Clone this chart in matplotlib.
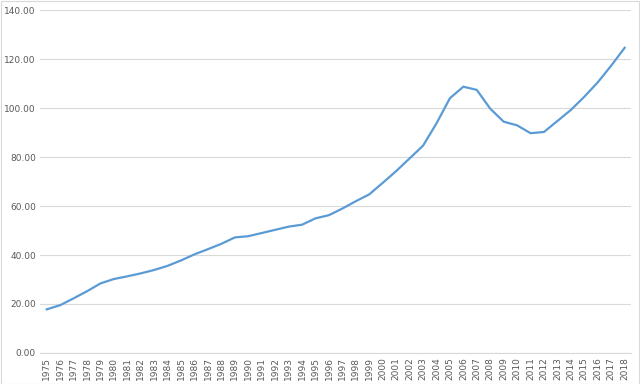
import numpy as np
import matplotlib.pyplot as plt
from matplotlib.patches import Rectangle

# data
years = list(range(1975, 2019))
values = [17.8, 19.5, 22.3, 25.2, 28.4, 30.2, 31.3, 32.5, 33.9, 35.6,
          37.8, 40.3, 42.4, 44.6, 47.2, 47.7, 49.0, 50.3, 51.6, 52.4,
          55.0, 56.3, 59.0, 62.0, 64.8, 69.5, 74.3, 79.5, 84.7, 93.8,
          104.1, 108.8, 107.5, 99.8, 94.5, 93.0, 89.8, 90.3, 94.8, 99.3,
          104.7, 110.6, 117.4, 124.7]
yticks = [0, 20, 40, 60, 80, 100, 120, 140]

fig = plt.figure(figsize=(6.4, 3.84), dpi=100)
ax = fig.add_axes([0.0625, 0.081, 0.924, 0.892])

x = np.arange(len(years))
ax.plot(x, values, color='#5B9BD5', linewidth=1.6, solid_joinstyle='round')

ax.set_xlim(-0.5, len(years) - 0.5)
ax.set_ylim(0, 140)
ax.set_yticks(yticks)
ax.set_yticklabels(['{:.2f}'.format(v) for v in yticks])
ax.set_xticks(x)
ax.set_xticklabels([str(y) for y in years], rotation=90)

ax.grid(axis='y', color='#d9d9d9', linewidth=0.8)
ax.set_axisbelow(True)
for side in ['top', 'right', 'left']:
    ax.spines[side].set_visible(False)
ax.spines['bottom'].set_color('#d9d9d9')
ax.spines['bottom'].set_linewidth(0.8)
ax.tick_params(axis='both', length=0, colors='#595959', labelsize=6.5, pad=3)

# chart area border
fig.patches.append(Rectangle((0.001, 0.001), 0.997, 0.997, transform=fig.transFigure,
                             fill=False, edgecolor='#d9d9d9', linewidth=0.8))

fig.savefig('out.png', dpi=100)
